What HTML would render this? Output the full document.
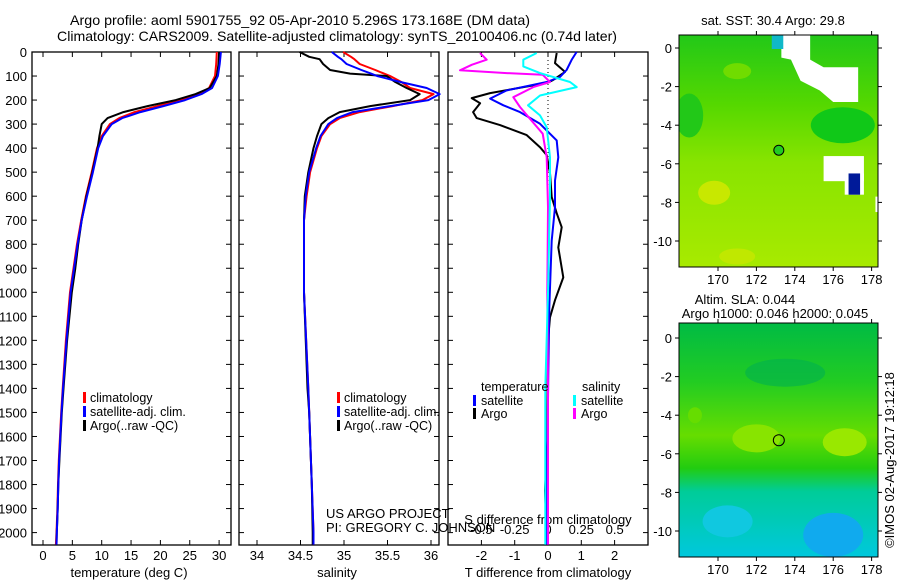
<!DOCTYPE html>
<html><head><meta charset="utf-8">
<style>
body{margin:0;background:#fff;}
svg{display:block;font-family:"Liberation Sans",sans-serif;}
text{font-size:12.5px;fill:#000;}
</style></head>
<body>
<svg id="c" width="900" height="580" xmlns="http://www.w3.org/2000/svg">
<rect width="900" height="580" fill="#fff"/>
<text x="70" y="25" textLength="460" lengthAdjust="spacingAndGlyphs" style="font-size:14px">Argo profile: aoml 5901755_92 05-Apr-2010 5.296S 173.168E (DM data)</text>
<text x="57" y="41" textLength="560" lengthAdjust="spacingAndGlyphs" style="font-size:14px">Climatology: CARS2009. Satellite-adjusted climatology: synTS_20100406.nc (0.74d later)</text>
<g id="g"></g>
</svg>
<script>
// ---- data ----
const tDepth = [0,50,100,150,175,200,225,250,275,300,350,400,500,600,700,800,900,1000,1200,1400,1500,1600,1700,1800,1900,2000,2050];
const tClim  = [29.6,29.5,29.3,28.3,26.5,23.3,19.5,15.6,13.0,11.4,10.0,9.2,8.3,7.3,6.5,5.8,5.2,4.6,3.9,3.35,3.1,2.9,2.7,2.55,2.45,2.3,2.2];
const tSat   = [30.3,30.1,29.8,28.8,27.0,24.2,20.5,16.6,13.5,11.7,10.2,9.4,8.5,7.5,6.6,5.9,5.3,4.7,4.0,3.4,3.15,2.95,2.75,2.6,2.5,2.35,2.3];
const tArgo  = [30.0,29.9,29.6,28.4,26.0,22.6,17.8,13.7,11.0,10.0,9.6,9.3,8.4,7.4,6.6,6.0,5.5,4.9,4.1,3.5,3.2,3.0,2.8,2.6,2.5,2.35,2.3];
const sDepth = [0,20,30,50,75,90,100,125,150,175,200,225,250,275,300,350,400,500,600,700,1000,1400,1500,1800,2000,2050];
const sClim  = [34.99,35.08,35.12,35.18,35.36,35.46,35.53,35.66,35.76,36.03,35.9,35.56,35.18,34.95,34.84,34.74,34.69,34.61,34.57,34.54,34.54,34.59,34.6,34.63,34.65,34.65];
const sSat   = [34.86,34.93,34.97,35.03,35.2,35.31,35.38,35.65,35.95,36.1,35.97,35.53,35.1,34.92,34.82,34.73,34.68,34.6,34.56,34.54,34.54,34.59,34.6,34.63,34.65,34.65];
const sArgo  = [34.49,34.6,34.72,34.76,34.84,35.07,35.49,35.59,35.72,35.87,35.76,35.3,34.95,34.82,34.74,34.69,34.65,34.59,34.55,34.54,34.54,34.58,34.6,34.63,34.64,34.64];
const dtArgoDepth = [4,46,83,117,129,171,192,213,250,275,304,346,396,429,504,604,671,729,813,938,1033,1104,1200,1617,1825,1938,2050];
const dtArgo = [0.26,0.21,0.51,0.15,-0.04,-1.74,-2.29,-2.04,-2.25,-2.14,-1.44,-0.64,-0.24,-0.04,0.06,0.11,0.26,0.41,0.31,0.46,0.21,0.06,0.0,-0.02,-0.09,-0.06,-0.04];
const dtSatDepth = [0,33,75,104,125,160,194,222,250,299,368,438,535,646,785,1063,1340,1896,2050];
const dtSat = [0.86,0.71,0.56,0.36,-0.04,-1.24,-1.74,-1.34,-0.84,-0.24,0.26,0.31,0.21,0.21,0.11,0.04,0.01,-0.04,-0.04];
const dsArgoDepth = [4,32,53,76,88,95,125,146,188,229,278,340,438,646,1000,1400,2050];
const dsArgo = [-0.51,-0.46,-0.57,-0.66,-0.31,-0.04,0.015,-0.11,-0.26,-0.21,-0.135,-0.04,-0.01,0.0,-0.005,0.0,0.0];
const dsSatDepth = [4,32,60,88,125,146,181,222,264,313,438,600,1000,1400,2050];
const dsSat = [-0.085,-0.185,-0.185,-0.06,0.165,0.215,-0.06,-0.15,-0.06,-0.01,0.015,0.015,0.0,-0.02,-0.02];
const depthTicks = [0,100,200,300,400,500,600,700,800,900,1000,1100,1200,1300,1400,1500,1600,1700,1800,1900,2000];
const tTicks = [0,5,10,15,20,25,30];
const sTicks = [34,34.5,35,35.5,36];
const dtTicks = [-2,-1,0,1,2];
const dsTicks = ["-0.5","-0.25","0","0.25","0.5"];
const lonTicks = [170,172,174,176,178];
const latTicks = [0,-2,-4,-6,-8,-10];
const argoLon = 173.168, argoLat = -5.296;

// ---- scales ----
const NS="http://www.w3.org/2000/svg";
const G=document.getElementById('g');
function el(tag,attrs,parent){const e=document.createElementNS(NS,tag);for(const k in attrs)e.setAttribute(k,attrs[k]);(parent||G).appendChild(e);return e;}
const Y0=52,Y1=545;
const yD=d=>Y0+d*0.2403;
const xT=t=>43+t*5.87;
const xS=s=>257+(s-34)*87;
const xDT=v=>548+v*33.3;
const xDS=v=>548+v*133.3;

function txt(x,y,s,anchor,name,size){
  const t=el('text',{x:x,y:y,'text-anchor':anchor||'start'});t.textContent=s;
  if(size)t.style.fontSize=size+'px';
  
  
  return t;
}
function panel(x0,x1,name,leftLabels){
  const r=el('rect',{x:x0,y:Y0,width:x1-x0,height:Y1-Y0,fill:'none',stroke:'#000','stroke-width':1.3});
  
  
  depthTicks.forEach(d=>{
    const y=yD(d);
    el('line',{x1:x0,x2:x0+5,y1:y,y2:y,stroke:'#000'});
    el('line',{x1:x1-5,x2:x1,y1:y,y2:y,stroke:'#000'});
    if(leftLabels){ txt(27,y+5,String(d),'end','depth-tick-label',13); }
  });
}
function line(xs,ds,xf,color,w,name){
  const p=xs.map((v,i)=>xf(v).toFixed(1)+','+yD(ds[i]).toFixed(1)).join(' ');
  const l=el('polyline',{points:p,fill:'none',stroke:color,'stroke-width':w,'stroke-linejoin':'round'});
  
  
}
function legendBar(x,y,color,name){
  const r=el('rect',{x:x,y:y-10,width:3,height:11,fill:color});
  
  
}

// panel 1 temperature
panel(32,231,'temperature-panel',true);
tTicks.forEach(t=>{const x=xT(t);el('line',{x1:x,x2:x,y1:Y1,y2:Y1-5,stroke:'#000'});el('line',{x1:x,x2:x,y1:Y0,y2:Y0+5,stroke:'#000'});txt(x,560,String(t),'middle','temperature-tick-label',13);});
txt(129,577,'temperature (deg C)','middle','temperature-axis-title',13);
line(tClim,tDepth,xT,'#f00',2,'temperature-climatology-line');
line(tArgo,tDepth,xT,'#000',2,'temperature-argo-line');
line(tSat,tDepth,xT,'#00f',2,'temperature-satellite-line');
legendBar(83,402,'#f00','legend-climatology-marker');txt(90,402,'climatology','start','legend-climatology');
legendBar(83,416,'#00f','legend-satellite-marker');txt(90,416,'satellite-adj. clim.','start','legend-satellite');
legendBar(83,430,'#000','legend-argo-marker');txt(90,430,'Argo(..raw -QC)','start','legend-argo');

// panel 2 salinity
panel(239,439,'salinity-panel',false);
sTicks.forEach(s=>{const x=xS(s);el('line',{x1:x,x2:x,y1:Y1,y2:Y1-5,stroke:'#000'});el('line',{x1:x,x2:x,y1:Y0,y2:Y0+5,stroke:'#000'});txt(x,560,String(s),'middle','salinity-tick-label',13);});
txt(337,577,'salinity','middle','salinity-axis-title',13);
line(sClim,sDepth,xS,'#f00',2,'salinity-climatology-line');
line(sArgo,sDepth,xS,'#000',2,'salinity-argo-line');
line(sSat,sDepth,xS,'#00f',2,'salinity-satellite-line');
legendBar(337,402,'#f00','legend2-climatology-marker');txt(344,402,'climatology','start','legend2-climatology');
legendBar(337,416,'#00f','legend2-satellite-marker');txt(344,416,'satellite-adj. clim.','start','legend2-satellite');
legendBar(337,430,'#000','legend2-argo-marker');txt(344,430,'Argo(..raw -QC)','start','legend2-argo');
txt(326,518,'US ARGO PROJECT','start','project-credit',13);
txt(326,532,'PI: GREGORY C. JOHNSON','start','pi-credit',13);

// panel 3 differences
panel(448,648,'difference-panel',false);
el('line',{x1:548,x2:548,y1:Y0,y2:Y1,stroke:'#000','stroke-dasharray':'1,3'});
dtTicks.forEach(v=>{const x=xDT(v);el('line',{x1:x,x2:x,y1:Y1,y2:Y1-5,stroke:'#000'});el('line',{x1:x,x2:x,y1:Y0,y2:Y0+5,stroke:'#000'});txt(x,560,String(v),'middle','t-difference-tick-label',13);});
dsTicks.forEach(v=>{txt(xDS(parseFloat(v)),534,v,'middle','s-difference-tick-label',13);});
txt(548,524,'S difference from climatology','middle','s-difference-axis-title',13);
txt(548,577,'T difference from climatology','middle','t-difference-axis-title',13);
line(dtArgo,dtArgoDepth,xDT,'#000',2,'t-diff-argo-line');
line(dtSat,dtSatDepth,xDT,'#00f',2,'t-diff-satellite-line');
line(dsArgo,dsArgoDepth,xDS,'#f0f',2,'s-diff-argo-line');
line(dsSat,dsSatDepth,xDS,'#0ff',2,'s-diff-satellite-line');
txt(481,391,'temperature','start','legend3-temperature-heading');
legendBar(473,405,'#00f','legend3-t-satellite-marker');txt(481,405,'satellite','start','legend3-t-satellite');
legendBar(473,418,'#000','legend3-t-argo-marker');txt(481,418,'Argo','start','legend3-t-argo');
txt(582,391,'salinity','start','legend3-salinity-heading');
legendBar(573,405,'#0ff','legend3-s-satellite-marker');txt(581,405,'satellite','start','legend3-s-satellite');
legendBar(573,418,'#f0f','legend3-s-argo-marker');txt(581,418,'Argo','start','legend3-s-argo');

// maps
function map(y0,y1,lat0y,name,draw){
  const x0=679,x1=878;
  const xL=l=>718+(l-170)*19.2;
  const yL=l=>lat0y+(-l)*19.3;
  const cid=name+'-clip';
  const cp=el('clipPath',{id:cid});el('rect',{x:x0,y:y0,width:x1-x0,height:y1-y0},cp);
  const g=el('g',{'clip-path':'url(#'+cid+')'});
  
  
  draw(g,x0,y0,x1,y1,xL,yL);
  const r=el('rect',{x:x0,y:y0,width:x1-x0,height:y1-y0,fill:'none',stroke:'#000'});
  
  
  lonTicks.forEach(l=>{const x=xL(l);el('line',{x1:x,x2:x,y1:y0,y2:y0-4,stroke:'#000'});el('line',{x1:x,x2:x,y1:y1,y2:y1+4,stroke:'#000'});txt(x,y1+17,String(l),'middle',name+'-lon-label',13);});
  latTicks.forEach(l=>{const y=yL(l);el('line',{x1:x0,x2:x0-4,y1:y,y2:y,stroke:'#000'});el('line',{x1:x1,x2:x1+4,y1:y,y2:y,stroke:'#000'});txt(672,y+5,String(l),'end',name+'-lat-label',13);});
  return {xL,yL};
}
const defs=el('defs',{});
const g1=el('linearGradient',{id:'sst',x1:0,y1:0,x2:0,y2:1},defs);
[[0,'#22c818'],[0.3,'#55d800'],[0.55,'#88e400'],[1,'#a8ea00']].forEach(s=>el('stop',{offset:s[0],'stop-color':s[1]},g1));
const g2=el('linearGradient',{id:'sla',x1:0,y1:0,x2:0,y2:1},defs);
[[0,'#00bb44'],[0.25,'#22cc22'],[0.48,'#66dd00'],[0.62,'#22cc10'],[0.72,'#00cc99'],[1,'#00c8dd']].forEach(s=>el('stop',{offset:s[0],'stop-color':s[1]},g2));

const m1=map(35,267,48,'sst-map',(g,x0,y0,x1,y1,xL,yL)=>{
  el('rect',{x:x0,y:y0,width:x1-x0,height:y1-y0,fill:'url(#sst)'},g);
  el('ellipse',{cx:xL(176.5),cy:yL(-4),rx:32,ry:18,fill:'#10c818'},g);
  el('ellipse',{cx:xL(168.5),cy:yL(-3.5),rx:14,ry:22,fill:'#22c818'},g);
  el('ellipse',{cx:xL(171),cy:yL(-1.2),rx:14,ry:8,fill:'#70dc00'},g);
  el('ellipse',{cx:xL(169.8),cy:yL(-7.5),rx:16,ry:12,fill:'#c8e800'},g);
  el('ellipse',{cx:xL(171),cy:yL(-10.8),rx:18,ry:8,fill:'#c0e800'},g);
  el('polygon',{points:[xL(173.3)+','+y0,xL(174.8)+','+y0,xL(174.8)+','+yL(-0.6),xL(175.5)+','+yL(-1.0),xL(177.3)+','+yL(-1.0),xL(177.3)+','+yL(-2.8),xL(176)+','+yL(-2.8),xL(175.3)+','+yL(-2.2),xL(174.3)+','+yL(-1.7),xL(173.8)+','+yL(-0.6),xL(173.3)+','+yL(-0.5)].join(' '),fill:'#fff'},g);
  el('rect',{x:xL(172.8),y:y0,width:xL(173.4)-xL(172.8),height:14,fill:'#10b8c8'},g);
  el('rect',{x:xL(175.5),y:yL(-5.6),width:xL(177.6)-xL(175.5),height:yL(-6.9)-yL(-5.6),fill:'#fff'},g);
  el('rect',{x:xL(176.6),y:yL(-6.5),width:xL(177.6)-xL(176.6),height:yL(-7.6)-yL(-6.5),fill:'#fff'},g);
  el('rect',{x:xL(176.8),y:yL(-6.5),width:xL(177.4)-xL(176.8),height:yL(-7.6)-yL(-6.5),fill:'#001a99'},g);
  el('rect',{x:xL(178.2),y:yL(-7.7),width:10,height:yL(-8.5)-yL(-7.7),fill:'#fff'},g);
  const c=el('circle',{cx:xL(argoLon),cy:yL(argoLat),r:5,fill:'#22cc22',stroke:'#000'},g);
  
  
});
txt(773,25,'sat. SST: 30.4 Argo: 29.8','middle','sst-map-title',13);

const m2=map(323,557,338,'sla-map',(g,x0,y0,x1,y1,xL,yL)=>{
  el('rect',{x:x0,y:y0,width:x1-x0,height:y1-y0,fill:'url(#sla)'},g);
  el('ellipse',{cx:xL(172),cy:yL(-5.2),rx:24,ry:14,fill:'#88e400'},g);
  el('ellipse',{cx:xL(176.6),cy:yL(-5.4),rx:22,ry:14,fill:'#99e800'},g);
  el('ellipse',{cx:xL(168.8),cy:yL(-4),rx:7,ry:8,fill:'#66dd00'},g);
  el('ellipse',{cx:xL(176),cy:yL(-10.2),rx:30,ry:22,fill:'#10aaee'},g);
  el('ellipse',{cx:xL(170.5),cy:yL(-9.5),rx:25,ry:16,fill:'#10c8e0'},g);
  el('ellipse',{cx:xL(173.5),cy:yL(-1.8),rx:40,ry:14,fill:'#00b050',opacity:0.6},g);
  const c=el('circle',{cx:xL(argoLon),cy:yL(argoLat),r:5.5,fill:'none',stroke:'#000'},g);
  
  
});
txt(745,304,'Altim. SLA: 0.044','middle','sla-map-title-1',13);
txt(775,318,'Argo h1000: 0.046 h2000: 0.045','middle','sla-map-title-2',13);
const im=txt(0,0,'©IMOS 02-Aug-2017 19:12:18','middle','imos-credit',13);
im.setAttribute('transform','translate(894,460) rotate(-90)');
</script>
</body></html>
